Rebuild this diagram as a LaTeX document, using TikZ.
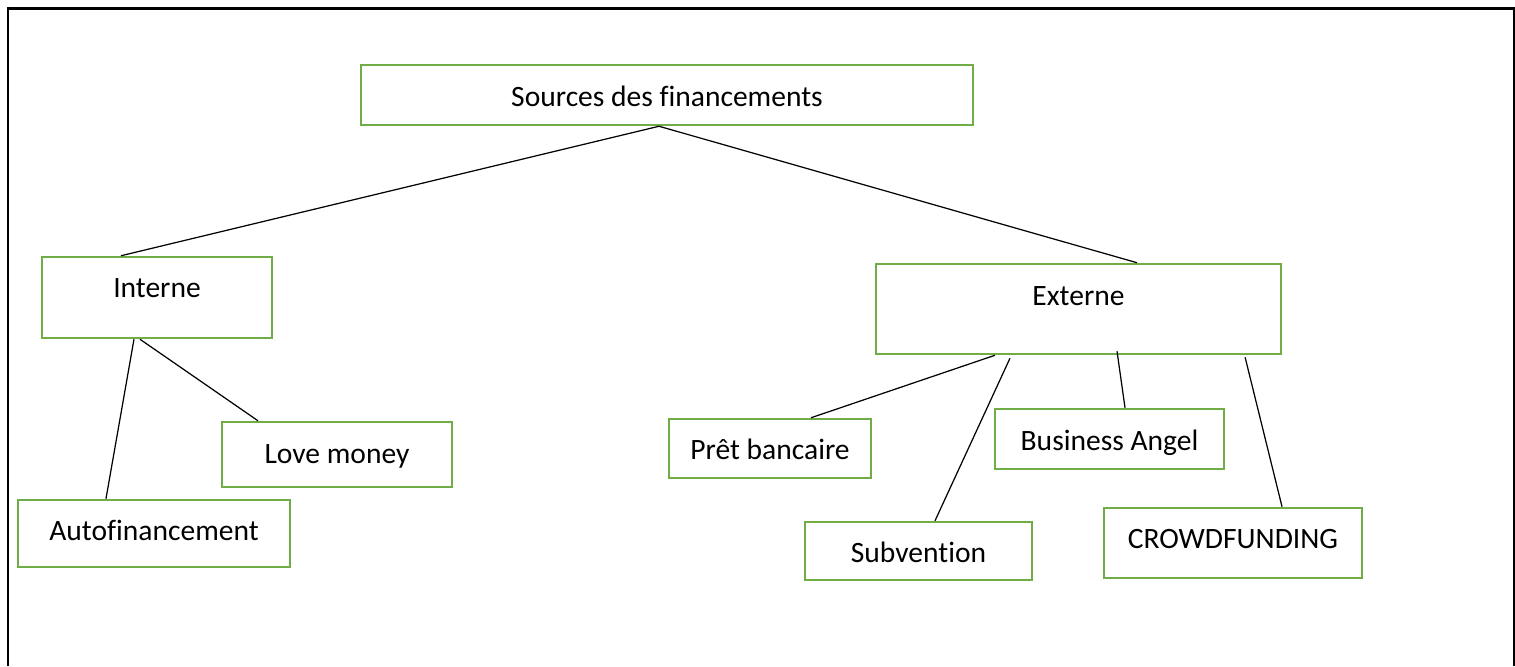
\documentclass[tikz,border=0pt]{standalone}
\usepackage{fontspec}
\setmainfont{Carlito}[Ligatures=NoCommon]
\usepackage{tikz}
\usetikzlibrary{positioning,calc}
\definecolor{boxgreen}{HTML}{70AD47}

\begin{document}
\begin{tikzpicture}[x=0.01cm, y=-0.01cm, font=\fontsize{8.4}{10}\selectfont,
    srcbox/.style={draw=boxgreen, line width=0.7pt, inner sep=0pt,
      text height=2.8mm, text depth=0.6mm},
    link/.style={line width=0.35pt}]
  \useasboundingbox (0,0) rectangle (1515,666);
  % frame
  \draw[line width=0.85pt] (8,666) -- (8,8) -- (1514,8) -- (1514,666);
  % boxes: centre, size
  \node[srcbox, minimum width=6.12cm, minimum height=0.60cm] (src) at (667,95) {Sources des financements};
  \node[srcbox, minimum width=2.30cm, minimum height=0.81cm, text depth=2.8mm] (int) at (157,297.5) {Interne};
  \node[srcbox, minimum width=4.05cm, minimum height=0.90cm, text depth=3.6mm] (ext) at (1078.5,309) {Externe};
  \node[srcbox, minimum width=2.30cm, minimum height=0.65cm, text depth=1.1mm] (love) at (337,454.5) {Love money};
  \node[srcbox, minimum width=2.72cm, minimum height=0.67cm, text depth=1.5mm] (auto) at (154,533.5) {Autofinancement};
  \node[srcbox, minimum width=2.02cm, minimum height=0.59cm] (pret) at (770,448.5) {Prêt bancaire};
  \node[srcbox, minimum width=2.27cm, minimum height=0.58cm] (subv) at (918.5,551) {Subvention};
  \node[srcbox, minimum width=2.29cm, minimum height=0.60cm] (angel) at (1109.5,439) {Business Angel};
  \node[srcbox, minimum width=2.58cm, minimum height=0.70cm, text depth=1.8mm] (crowd) at (1233,543) {CROWDFUNDING};
  % links
  \draw[link] ([xshift=-0.08cm]src.south) -- ([xshift=-0.36cm]int.north);
  \draw[link] ([xshift=-0.08cm]src.south) -- ([xshift=0.585cm]ext.north);
  \draw[link] ([xshift=-0.17cm]int.south) -- ([xshift=-0.79cm]love.north);
  \draw[link] ([xshift=-0.23cm]int.south) -- ([xshift=-0.48cm]auto.north);
  \draw[link] ([xshift=-0.835cm]ext.south) -- ([xshift=0.41cm]pret.north);
  \draw[link] ([xshift=-0.685cm,yshift=-0.03cm]ext.south) -- ([xshift=0.165cm]subv.north);
  \draw[link] ([xshift=0.385cm,yshift=0.04cm]ext.south) -- ([xshift=0.155cm]angel.north);
  \draw[link] ([xshift=1.665cm,yshift=-0.02cm]ext.south) -- ([xshift=0.49cm]crowd.north);
\end{tikzpicture}
\end{document}
